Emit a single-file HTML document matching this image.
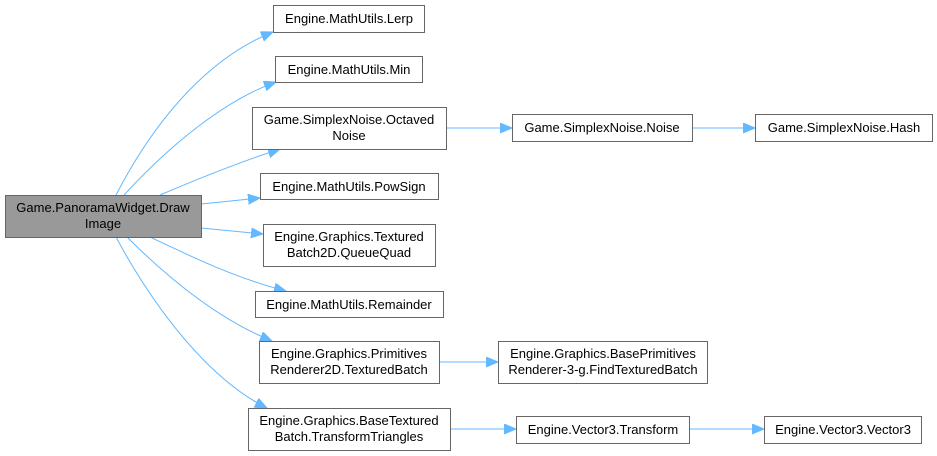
<!DOCTYPE html>
<html><head><meta charset="utf-8"><style>
html,body{margin:0;padding:0;background:#fff;}
svg{display:block;}
text{font-family:"Liberation Sans",Arial,sans-serif;font-size:13px;fill:#000;text-anchor:middle;}
.n{fill:#fff;stroke:#666;stroke-width:1;}
.e{fill:none;stroke:#63b8ff;stroke-width:1;}
</style></head><body>
<svg width="937" height="456" viewBox="0 0 937 456">
<defs>
<marker id="a" markerUnits="userSpaceOnUse" markerWidth="14" markerHeight="12" refX="12" refY="5" orient="auto">
<path d="M0,0 L12,5 L0,10 Z" fill="#63b8ff" stroke="#63b8ff"/>
</marker>
</defs>
<path class="e" marker-end="url(#a)" d="M116,195 C160,110 215,55 273,32"/>
<path class="e" marker-end="url(#a)" d="M124,195 C170,145 225,100 276,82"/>
<path class="e" marker-end="url(#a)" d="M160,195 C200,178 240,162 280,149"/>
<path class="e" marker-end="url(#a)" d="M201,204 L260,198"/>
<path class="e" marker-end="url(#a)" d="M201,228 L263,234"/>
<path class="e" marker-end="url(#a)" d="M150,237 C190,256 235,278 286,291"/>
<path class="e" marker-end="url(#a)" d="M127,237 C170,280 220,320 272,341"/>
<path class="e" marker-end="url(#a)" d="M116,237 C155,310 210,380 267,408"/>
<path class="e" marker-end="url(#a)" d="M446,128 L512,128"/>
<path class="e" marker-end="url(#a)" d="M692,128 L755,128"/>
<path class="e" marker-end="url(#a)" d="M439,362 L498,362"/>
<path class="e" marker-end="url(#a)" d="M450,429 L516,429"/>
<path class="e" marker-end="url(#a)" d="M689,429 L764,429"/>

<rect x="5.5" y="195.5" width="196" height="42" fill="#999" stroke="#666"/>
<text x="103" y="212">Game.PanoramaWidget.Draw</text>
<text x="103" y="228">Image</text>

<rect class="n" x="273.5" y="5.5" width="151" height="27"/>
<text x="349" y="23">Engine.MathUtils.Lerp</text>
<rect class="n" x="275.5" y="56.5" width="147" height="26"/>
<text x="349" y="74">Engine.MathUtils.Min</text>
<rect class="n" x="252.5" y="107.5" width="194" height="42"/>
<text x="349" y="124">Game.SimplexNoise.Octaved</text>
<text x="349" y="140">Noise</text>
<rect class="n" x="260.5" y="173.5" width="178" height="26"/>
<text x="349" y="191">Engine.MathUtils.PowSign</text>
<rect class="n" x="263.5" y="224.5" width="172" height="42"/>
<text x="349" y="241">Engine.Graphics.Textured</text>
<text x="349" y="257">Batch2D.QueueQuad</text>
<rect class="n" x="255.5" y="291.5" width="188" height="26"/>
<text x="349" y="309">Engine.MathUtils.Remainder</text>
<rect class="n" x="259.5" y="341.5" width="180" height="42"/>
<text x="349" y="358">Engine.Graphics.Primitives</text>
<text x="349" y="374">Renderer2D.TexturedBatch</text>
<rect class="n" x="248.5" y="408.5" width="202" height="42"/>
<text x="349" y="425">Engine.Graphics.BaseTextured</text>
<text x="349" y="441">Batch.TransformTriangles</text>

<rect class="n" x="512.5" y="114.5" width="180" height="27"/>
<text x="602" y="132">Game.SimplexNoise.Noise</text>
<rect class="n" x="755.5" y="114.5" width="177" height="27"/>
<text x="844" y="132">Game.SimplexNoise.Hash</text>
<rect class="n" x="498.5" y="341.5" width="209" height="42"/>
<text x="603" y="358">Engine.Graphics.BasePrimitives</text>
<text x="603" y="374">Renderer-3-g.FindTexturedBatch</text>
<rect class="n" x="516.5" y="416.5" width="173" height="27"/>
<text x="603" y="434">Engine.Vector3.Transform</text>
<rect class="n" x="764.5" y="416.5" width="157" height="27"/>
<text x="843" y="434">Engine.Vector3.Vector3</text>
</svg>
</body></html>
